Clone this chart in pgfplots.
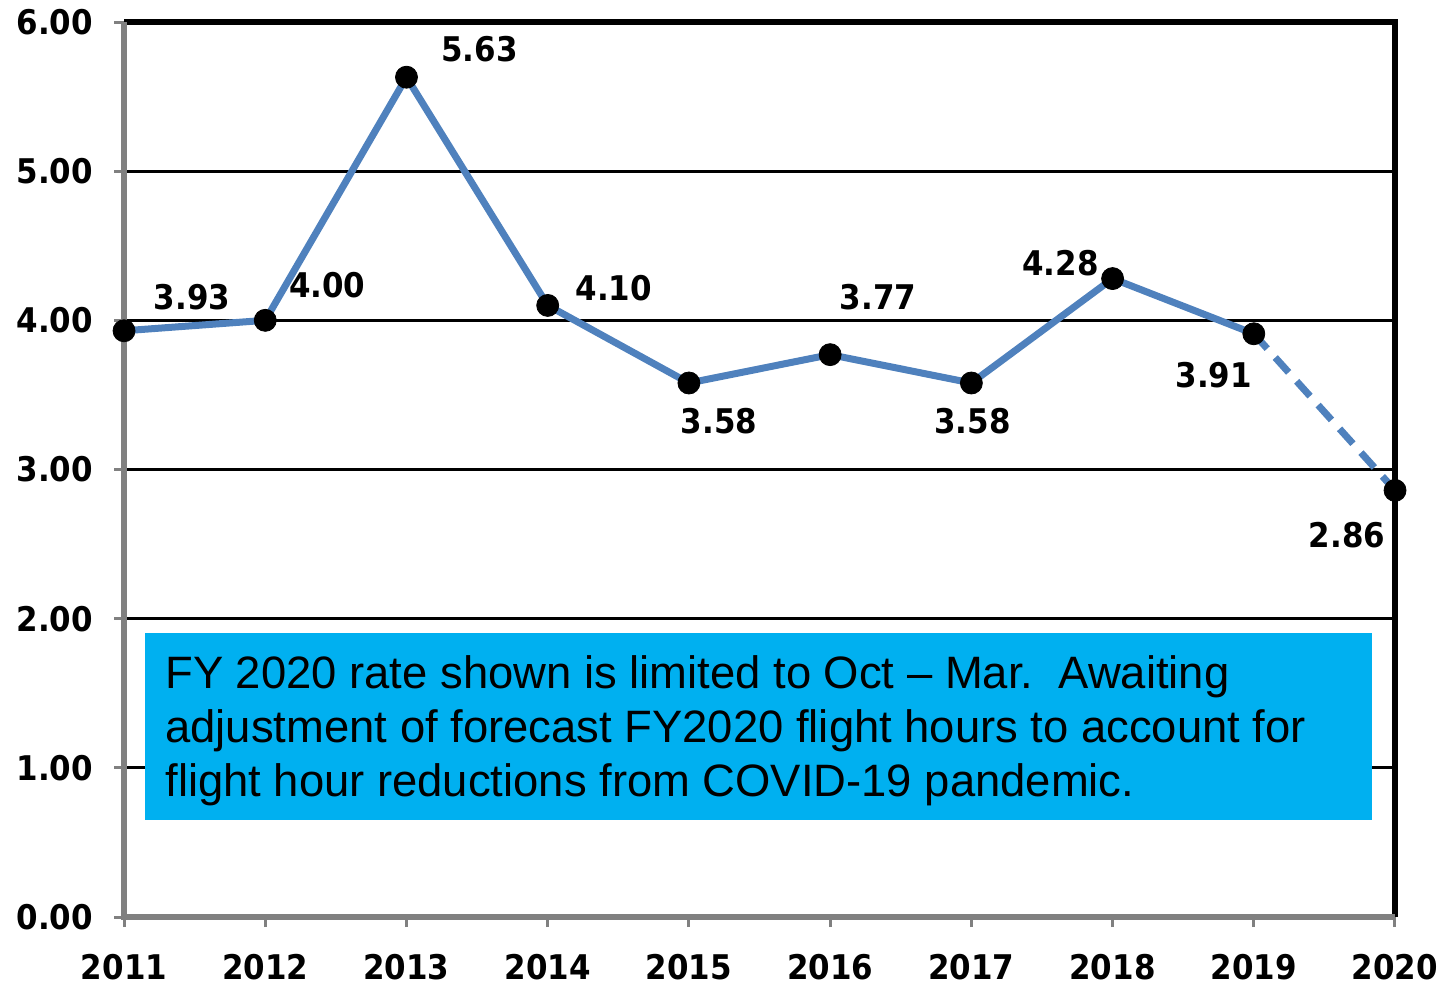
\documentclass[border=0pt]{standalone}
\usepackage{fontspec}
\setmainfont{DejaVu Sans}
\newfontfamily\lblfont{DejaVu Sans}[FakeStretch=0.91]
\newfontfamily\arialfont{Liberation Sans}
\usepackage{pgfplots}
\pgfplotsset{compat=1.18}
\definecolor{serieblue}{HTML}{4F81BD}
\definecolor{boxcyan}{HTML}{00B0F0}
\newcommand{\lbl}{\fontsize{17}{20}\lblfont\bfseries}

\begin{document}
\begin{tikzpicture}
\begin{axis}[
    scale only axis, width=635.5pt, height=447.5pt,
    xmin=2011, xmax=2020, ymin=0, ymax=6,
    xtick={2011,2012,...,2020}, ytick={0,1,...,6},
    xtick pos=bottom, ytick pos=left,
    tick align=outside, major tick length=5pt,
    tick style={gray, line width=1.5pt},
    x tick label style={/pgf/number format/set thousands separator={}, yshift=-10pt},
    y tick label style={/pgf/number format/.cd, fixed, fixed zerofill, precision=2, /tikz/.cd, xshift=-7pt},
    /pgf/number format/assume math mode=true,
    tick label style={font=\lbl},
    ymajorgrids, grid style={black, line width=1.5pt},
    axis line style={draw=none},
    clip=false,
  ]
  % page extent
  \path (rel axis cs:-0.0976,-0.0793) -- (rel axis cs:1.0393,1.0246);
  % frame
  \draw[black, line width=3pt] (rel axis cs:0,1) -- (rel axis cs:1,1) -- (rel axis cs:1,0);
  \draw[gray, line width=3pt] (rel axis cs:0,1) -- (rel axis cs:0,0) -- (rel axis cs:1,0);
  % note box
  \fill[boxcyan] (axis cs:2011.149,1.904) rectangle (axis cs:2019.838,0.650);
  \node[anchor=base west, inner sep=0pt, font=\arialfont\fontsize{22.7}{27}\selectfont]
    at (axis cs:2011.29,1.535) {FY 2020 rate shown is limited to Oct – Mar.\ \ Awaiting};
  \node[anchor=base west, inner sep=0pt, font=\arialfont\fontsize{22.7}{27}\selectfont]
    at (axis cs:2011.29,1.173) {adjustment of forecast FY2020 flight hours to account for};
  \node[anchor=base west, inner sep=0pt, font=\arialfont\fontsize{22.7}{27}\selectfont]
    at (axis cs:2011.29,0.811) {flight hour reductions from COVID-19 pandemic.};

  \addplot[serieblue, line width=3.5pt, no markers] coordinates {
    (2011,3.93) (2012,4.00) (2013,5.63) (2014,4.10) (2015,3.58)
    (2016,3.77) (2017,3.58) (2018,4.28) (2019,3.91)
  };
  \addplot[serieblue, line width=3.5pt, dash pattern=on 10pt off 6pt, no markers] coordinates {
    (2019,3.91) (2020,2.86)
  };
  \addplot[only marks, mark=*, mark size=5.5pt, black] coordinates {
    (2011,3.93) (2012,4.00) (2013,5.63) (2014,4.10) (2015,3.58)
    (2016,3.77) (2017,3.58) (2018,4.28) (2019,3.91) (2020,2.86)
  };

  % data labels
  \node[font=\lbl, xshift=34pt, yshift=17pt] at (axis cs:2011,3.93) {3.93};
  \node[font=\lbl, xshift=31pt, yshift=17.5pt] at (axis cs:2012,4.00) {4.00};
  \node[font=\lbl, xshift=36.5pt, yshift=14pt] at (axis cs:2013,5.63) {5.63};
  \node[font=\lbl, xshift=33pt, yshift=8.5pt] at (axis cs:2014,4.10) {4.10};
  \node[font=\lbl, xshift=15pt, yshift=-19pt] at (axis cs:2015,3.58) {3.58};
  \node[font=\lbl, xshift=24pt, yshift=29pt] at (axis cs:2016,3.77) {3.77};
  \node[font=\lbl, xshift=0.5pt, yshift=-19pt] at (axis cs:2017,3.58) {3.58};
  \node[font=\lbl, xshift=-26pt, yshift=7.5pt] at (axis cs:2018,4.28) {4.28};
  \node[font=\lbl, xshift=-20pt, yshift=-20.5pt] at (axis cs:2019,3.91) {3.91};
  \node[font=\lbl, xshift=-24pt, yshift=-22.5pt] at (axis cs:2020,2.86) {2.86};
\end{axis}
\end{tikzpicture}
\end{document}
